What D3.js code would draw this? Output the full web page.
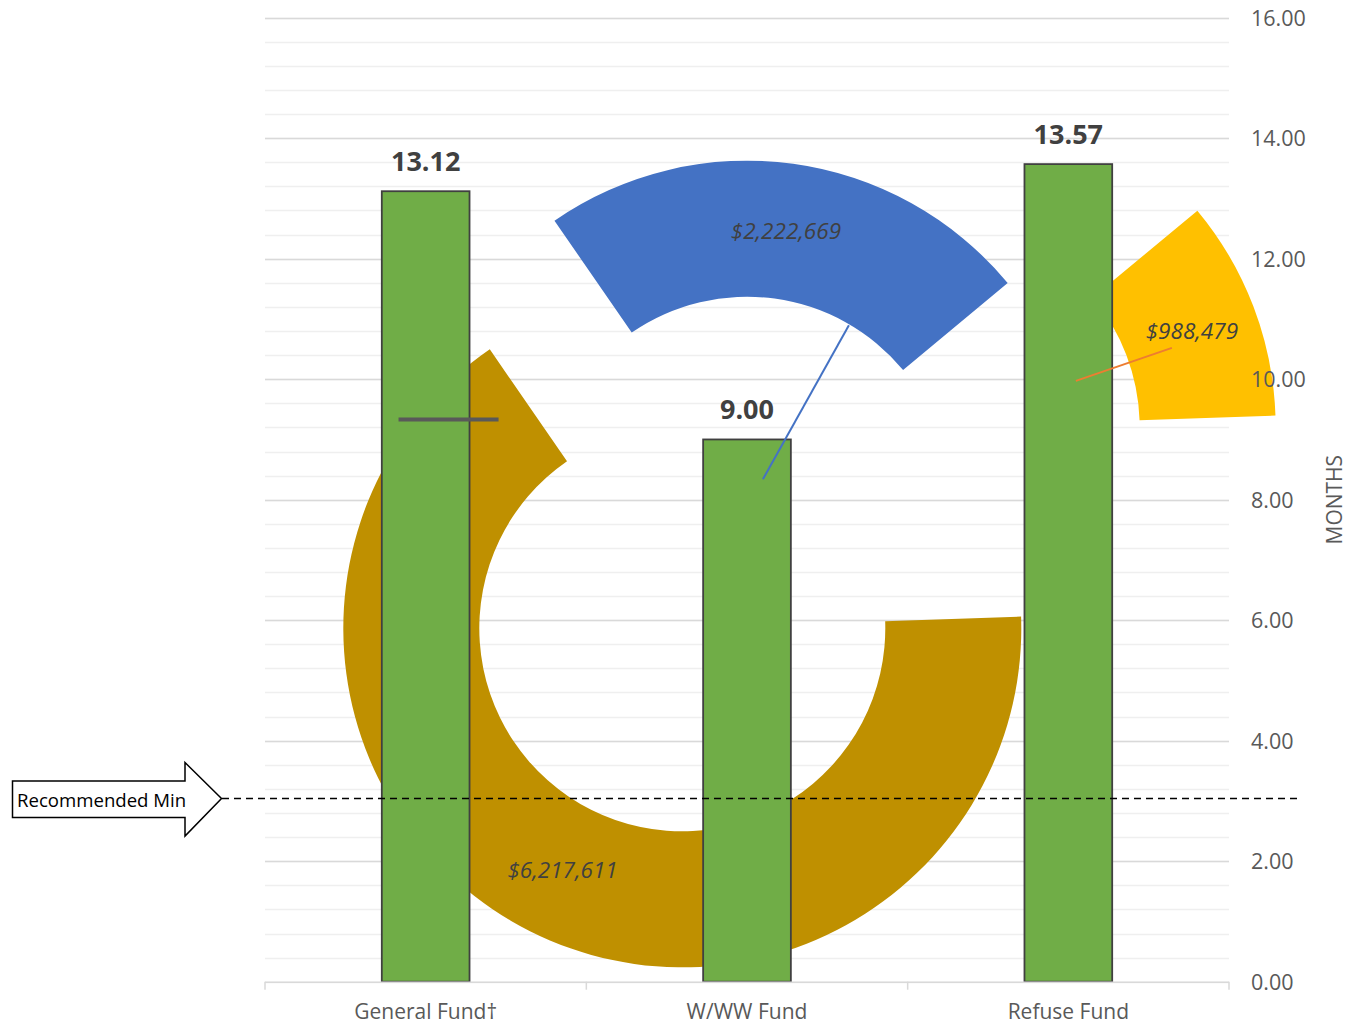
<!DOCTYPE html>
<html>
<head>
<meta charset="utf-8">
<script src="https://cdn.jsdelivr.net/npm/d3@7"></script>
<style>
  html, body { margin: 0; padding: 0; background: #fff; }
  svg { display: block; font-family: "Open Sans", "Liberation Sans", sans-serif; }
</style>
</head>
<body>
<svg id="chart" width="1351" height="1026"></svg>
<script>
// ---------------- DATA ----------------
const categories = ["General Fund\u2020", "W/WW Fund", "Refuse Fund"];
const months = [13.12, 9.00, 13.57];
const yTicks = [0, 2, 4, 6, 8, 10, 12, 14, 16];
const yTickLabels = ["0.00", "2.00", "4.00", "6.00", "8.00", "10.00", "12.00", "14.00", "16.00"];
const pieValues = [6217611, 2222669, 988479];
const pieLabels = ["$6,217,611", "$2,222,669", "$988,479"];
const recommendedMin = 3.04;
const recommendedLabel = "Recommended Min";
const axisTitle = "MONTHS";

// ---------------- LAYOUT / STYLE ----------------
const plot = { left: 265, right: 1229, top: 17.7, bottom: 981.7 };
const pieColors = ["#BF9000", "#4472C4", "#FFC000"];
const pieExplode = [144, 0, 203];          // per-slice explosion (px)
const pieStartDeg = 88;
const innerR = 203, outerR = 339;
// leader lines: offsets relative to each label (slice centroid)
const leaderOffsets = [
  { a: [-162, -451], b: [-62, -451], color: "#595959", w: 4 },
  { a: [65, 94], b: [-21, 248], color: "#4472C4", w: 2 },
  { a: [-18, 17], b: [-114, 50], color: "#ED7D31", w: 2 }
];

const svg = d3.select("#chart");

const x = d3.scaleBand().domain(categories).range([plot.left, plot.right]).padding(0);
const y = d3.scaleLinear().domain([0, 16]).range([plot.bottom, plot.top]);

// minor gridlines
const minorTicks = d3.range(0, 16.0001, 0.4);
svg.append("g").selectAll("line").data(minorTicks).join("line")
  .attr("x1", plot.left).attr("x2", plot.right)
  .attr("y1", d => Math.round(y(d)) + 0.5).attr("y2", d => Math.round(y(d)) + 0.5)
  .attr("stroke", "#EFEFEF").attr("stroke-width", 1.3);

// major gridlines
svg.append("g").selectAll("line").data(yTicks.filter(d => d > 0)).join("line")
  .attr("x1", plot.left).attr("x2", plot.right)
  .attr("y1", d => Math.round(y(d)) + 0.5).attr("y2", d => Math.round(y(d)) + 0.5)
  .attr("stroke", "#D9D9D9").attr("stroke-width", 1.5);

// ---------------- DONUT ----------------
const deg = Math.PI / 180;
const pie = d3.pie().sort(null).value(d => d)
  .startAngle(pieStartDeg * deg).endAngle(pieStartDeg * deg + 2 * Math.PI);
const arcs = pie(pieValues);
const arc = d3.arc().innerRadius(innerR).outerRadius(outerR);
const cx = (plot.left + plot.right) / 2;
const cy = (plot.top + plot.bottom) / 2;

function sliceCenter(d, i) {
  const mid = (d.startAngle + d.endAngle) / 2;
  return [cx + pieExplode[i] * Math.sin(mid), cy - pieExplode[i] * Math.cos(mid)];
}

const pieG = svg.append("g");
pieG.selectAll("path").data(arcs).join("path")
  .attr("transform", (d, i) => { const c = sliceCenter(d, i); return `translate(${c[0]},${c[1]})`; })
  .attr("d", arc)
  .attr("fill", (d, i) => pieColors[i]);

// ---------------- BARS ----------------
const barW = x.bandwidth() * 0.273;
svg.append("g").selectAll("rect").data(months).join("rect")
  .attr("x", (d, i) => x(categories[i]) + x.bandwidth() / 2 - barW / 2)
  .attr("y", d => y(d))
  .attr("width", barW)
  .attr("height", d => y(0) - y(d))
  .attr("fill", "#70AD47")
  .attr("stroke", "#404040")
  .attr("stroke-width", 1.8);

// bar value labels
svg.append("g").selectAll("text").data(months).join("text")
  .attr("x", (d, i) => x(categories[i]) + x.bandwidth() / 2)
  .attr("y", d => y(d) - 20)
  .attr("text-anchor", "middle")
  .attr("font-size", 27)
  .attr("font-weight", "bold")
  .attr("fill", "#404040")
  .text(d => d.toFixed(2));

// ---------------- LEADER LINES & PIE LABELS ----------------
const centroids = arcs.map((d, i) => {
  const c = sliceCenter(d, i);
  const k = arc.centroid(d);
  return [c[0] + k[0], c[1] + k[1]];
});

svg.append("g").selectAll("line").data(leaderOffsets).join("line")
  .attr("x1", (d, i) => centroids[i][0] + d.a[0])
  .attr("y1", (d, i) => centroids[i][1] + d.a[1])
  .attr("x2", (d, i) => centroids[i][0] + d.b[0])
  .attr("y2", (d, i) => centroids[i][1] + d.b[1])
  .attr("stroke", d => d.color)
  .attr("stroke-width", d => d.w);

svg.append("g").selectAll("text").data(pieLabels).join("text")
  .attr("x", (d, i) => centroids[i][0] + 2)
  .attr("y", (d, i) => centroids[i][1])
  .attr("dy", "0.35em")
  .attr("text-anchor", "middle")
  .attr("font-size", 22.5)
  .attr("font-style", "italic")
  .attr("fill", "#404040")
  .text(d => d);

// ---------------- AXES ----------------
// x axis
const xAxisG = svg.append("g");
xAxisG.append("line")
  .attr("x1", plot.left).attr("x2", plot.right)
  .attr("y1", plot.bottom + 0.5).attr("y2", plot.bottom + 0.5)
  .attr("stroke", "#D9D9D9").attr("stroke-width", 1.5);
const tickXs = categories.map(c => x(c)).concat([plot.right]);
xAxisG.selectAll("line.tick").data(tickXs).join("line").attr("class", "tick")
  .attr("x1", d => d).attr("x2", d => d)
  .attr("y1", plot.bottom).attr("y2", plot.bottom + 8)
  .attr("stroke", "#D9D9D9").attr("stroke-width", 1.5);
xAxisG.selectAll("text").data(categories).join("text")
  .attr("x", d => x(d) + x.bandwidth() / 2)
  .attr("y", 1019)
  .attr("text-anchor", "middle")
  .attr("font-size", 21)
  .attr("fill", "#595959")
  .text(d => d);

// y axis (right)
const yAxis = d3.axisRight(y).tickValues(yTicks)
  .tickFormat((d, i) => yTickLabels[i]).tickSize(0).tickPadding(0);
const yAxisG = svg.append("g").attr("transform", `translate(${plot.right + 22},0)`).call(yAxis);
yAxisG.select(".domain").remove();
yAxisG.selectAll("text")
  .attr("font-size", 21.5)
  .attr("font-family", "'Open Sans', sans-serif")
  .attr("fill", "#595959")
  .attr("dy", "0.35em");

// axis title
svg.append("text")
  .attr("transform", `translate(1342,${(plot.top + plot.bottom) / 2}) rotate(-90)`)
  .attr("text-anchor", "middle")
  .attr("font-size", 21)
  .attr("fill", "#595959")
  .text(axisTitle);

// ---------------- RECOMMENDED MIN ----------------
const ry = y(recommendedMin);
svg.append("line")
  .attr("x1", 222).attr("x2", 1298)
  .attr("y1", ry).attr("y2", ry)
  .attr("stroke", "#000").attr("stroke-width", 1.4)
  .attr("stroke-dasharray", "7,5");

const arrowPts = [
  [12.5, ry - 17.5], [185, ry - 17.5], [185, ry - 36], [221.5, ry],
  [185, ry + 37.5], [185, ry + 19], [12.5, ry + 19]
];
svg.append("path")
  .attr("d", d3.line()(arrowPts) + "Z")
  .attr("fill", "#fff").attr("stroke", "#000").attr("stroke-width", 1.5);
svg.append("text")
  .attr("x", 17).attr("y", ry + 8)
  .attr("font-size", 18.6)
  .attr("fill", "#000")
  .text(recommendedLabel);
</script>
</body>
</html>
